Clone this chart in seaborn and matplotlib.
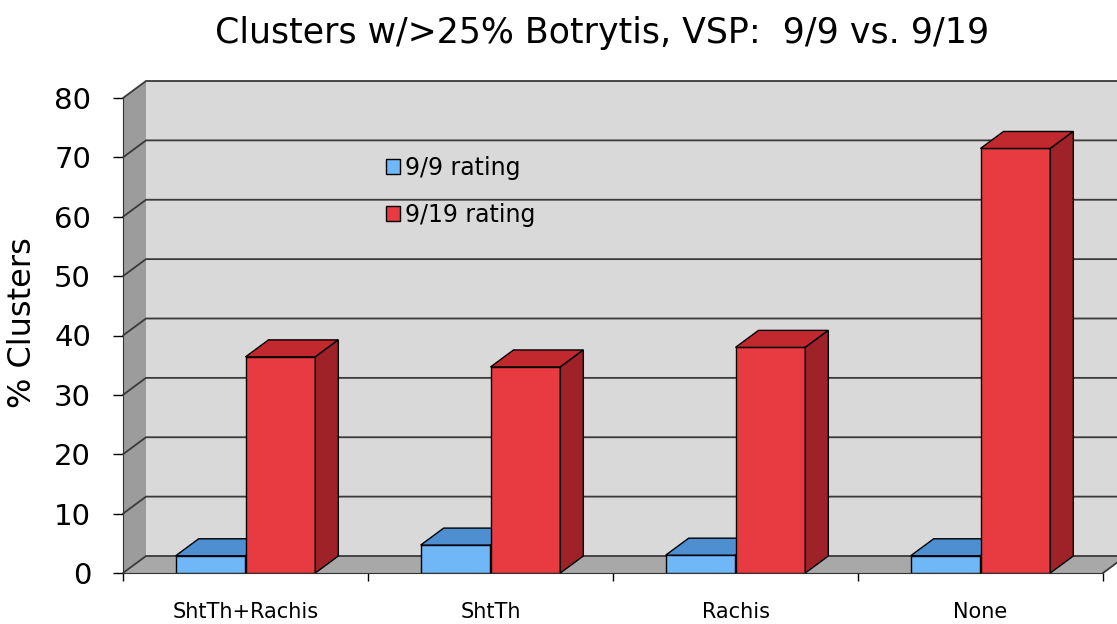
import numpy as np
import pandas as pd
import matplotlib
matplotlib.use("Agg")
import matplotlib.pyplot as plt
from matplotlib.patches import Polygon, Patch
import seaborn as sns

# === Datos ===
categories = ["ShtTh+Rachis", "ShtTh", "Rachis", "None"]
series = ["9/9 rating", "9/19 rating"]
rating_9_9 = [2.9, 4.7, 3.0, 2.9]
rating_9_19 = [36.4, 34.7, 38.0, 71.5]
y_ticks = [0, 10, 20, 30, 40, 50, 60, 70, 80]
title = "Clusters w/>25% Botrytis, VSP:  9/9 vs. 9/19"

df = pd.DataFrame({
    "category": categories * 2,
    "rating": [series[0]] * len(categories) + [series[1]] * len(categories),
    "value": rating_9_9 + rating_9_19,
})

# colores: frente, arriba, lado
blue = ("#6fb7f7", "#4d8fd1", "#3f78b5")
red = ("#e83a41", "#c2292f", "#9e2227")

sns.set_style("white")
plt.rcParams['font.family'] = ['DejaVu Sans']
plt.rcParams['text.color'] = 'black'
plt.rcParams['xtick.color'] = 'black'
plt.rcParams['ytick.color'] = 'black'

W, H = 1117, 624
fig = plt.figure(figsize=(W / 100, H / 100), dpi=100)
ax = fig.add_axes([123 / W, 51 / H, 980 / W, 475 / H])
ax.patch.set_visible(False)

sns.barplot(data=df, x="category", y="value", hue="rating",
            palette=[blue[0], red[0]], width=0.57, saturation=1,
            edgecolor="black", linewidth=1, legend=False, ax=ax)

x0, x1 = -0.5, len(categories) - 0.5
top = y_ticks[-1]
ax.set_xlim(x0, x1)
ax.set_ylim(0, top)

# profundidad de la caja "3D" (pixeles -> unidades de datos)
dx = 23 / (980 / (x1 - x0))
dy = 17 / (475 / top)

# paredes y suelo
walls = [
    ([(x0 + dx, dy), (x1 + dx, dy), (x1 + dx, top + dy), (x0 + dx, top + dy)], "#d9d9d9"),
    ([(x0, 0), (x0 + dx, dy), (x0 + dx, top + dy), (x0, top)], "#9c9c9c"),
    ([(x0, 0), (x1, 0), (x1 + dx, dy), (x0 + dx, dy)], "#a8a8a8"),
]
for pts, fc in walls:
    ax.add_patch(Polygon(pts, closed=True, fc=fc, ec="none", clip_on=False, zorder=0.5))

for y in y_ticks:
    ax.plot([x0, x0 + dx, x1 + dx], [y, y + dy, y + dy], color="#3a3a3a",
            lw=1.3, clip_on=False, zorder=1)
ax.plot([x1, x1 + dx], [0, dy], color="#3a3a3a", lw=1.3, clip_on=False, zorder=1)

# caras superior y lateral de cada barra
for i, (cont, cols) in enumerate(zip(ax.containers, [blue, red])):
    z = 3 + i
    for rect in cont:
        rect.set_zorder(z)
        bx, bw, bh = rect.get_x(), rect.get_width(), rect.get_height()
        top_face = [(bx, bh), (bx + bw, bh), (bx + bw + dx, bh + dy), (bx + dx, bh + dy)]
        side_face = [(bx + bw, 0), (bx + bw + dx, dy), (bx + bw + dx, bh + dy), (bx + bw, bh)]
        ax.add_patch(Polygon(top_face, closed=True, fc=cols[1], ec="black", lw=1,
                             clip_on=False, zorder=z))
        ax.add_patch(Polygon(side_face, closed=True, fc=cols[2], ec="black", lw=1,
                             clip_on=False, zorder=z))

# ejes
for s in ["top", "right"]:
    ax.spines[s].set_visible(False)
ax.spines["left"].set_color("#333333")
ax.spines["bottom"].set_color("#333333")
ax.spines["left"].set_zorder(2)
ax.spines["bottom"].set_zorder(2)

ax.set_yticks(y_ticks)
ax.tick_params(axis="y", length=7, width=1, pad=16, labelsize=21, direction="out", left=True)
ax.set_xticks(range(len(categories)))
ax.set_xticklabels(categories)
ax.tick_params(axis="x", which="major", length=0, pad=21, labelsize=15)
ax.set_xticks(np.arange(x0, x1 + 0.01, 1.0), minor=True)
ax.tick_params(axis="x", which="minor", length=6, width=1, direction="out", bottom=True)
ax.set_xlabel("")
ax.set_ylabel("")

handles = [Patch(fc=blue[0], ec="black"), Patch(fc=red[0], ec="black")]
fig.legend(handles, series, loc="upper left", bbox_to_anchor=(365 / W, 1 - 135 / H),
           frameon=False, fontsize=17, handlelength=0.6, handleheight=0.6,
           handletextpad=0.2, labelspacing=0.95)

fig.text(602 / W, 1 - 33 / H, title, ha="center", va="center", fontsize=25)
fig.text(23 / W, 1 - 323 / H, "% Clusters", rotation=90, ha="center", va="center", fontsize=23)

fig.savefig("out.png", dpi=100)
